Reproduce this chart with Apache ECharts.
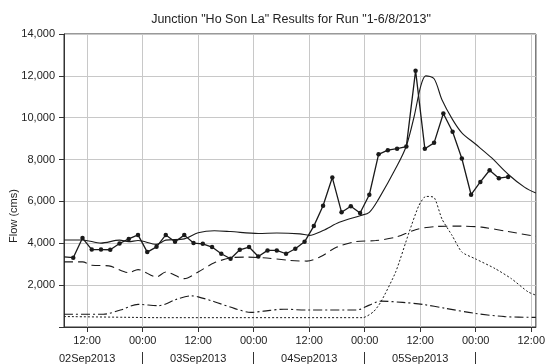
<!DOCTYPE html>
<html>
<head>
<meta charset="utf-8">
<script src="https://cdn.jsdelivr.net/npm/echarts@6/dist/echarts.min.js"></script>
<style>
  html, body { margin: 0; padding: 0; background: #fff; }
  #chart { width: 548px; height: 364px; }
</style>
</head>
<body>
<div id="chart"></div>
<script>
// Time is measured in hours from 02Sep2013 00:00.
const xMin = 7;     // 02Sep2013 07:00
const xMax = 109;   // 06Sep2013 13:00

// Time-of-day tick positions and the date labels underneath them
const timeTicks = [12, 24, 36, 48, 60, 72, 84, 96, 108];
const dayBreaks = [24, 48, 72, 96];
const dayCentres = [12, 36, 60, 84];
const dayLabels = ['02Sep2013', '03Sep2013', '04Sep2013', '05Sep2013'];

// Observed flow (every two hours)
const obsHours = [7, 9, 11, 13, 15, 17, 19, 21, 23, 25, 27, 29, 31, 33, 35, 37, 39, 41, 43, 45, 47,
  49, 51, 53, 55, 57, 59, 61, 63, 65, 67, 69, 71, 73, 75, 77, 79, 81, 83, 85, 87, 89, 91, 93, 95,
  97, 99, 101, 103];
const obsFlow = [3350, 3310, 4250, 3700, 3700, 3690, 3990, 4210, 4400, 3580, 3830, 4400, 4070, 4390,
  4010, 3975, 3820, 3500, 3260, 3690, 3820, 3370, 3660, 3660, 3500, 3740, 4070, 4820, 5795, 7140,
  5480, 5770, 5450, 6320, 8250, 8450, 8520, 8620, 12250, 8520, 8800, 10200, 9330, 8050, 6320,
  6930, 7490, 7110, 7170];

// Computed flow at the junction
const simHours = [7, 11, 15, 19, 21, 23, 27, 29, 33, 36, 39.5, 43, 49, 53, 58, 60, 63, 66.5, 71, 73,
  75, 79, 81, 82.7, 84.1, 85.2, 87, 88.7, 91, 93, 96, 99.4, 103, 106.6, 109];
const simFlow = [4160, 4160, 4010, 4150, 4080, 4130, 3950, 4150, 4210, 4500, 4600, 4560, 4470, 4490,
  4450, 4380, 4610, 5000, 5320, 5480, 6110, 7700, 8650, 10070, 11500, 12000, 11860, 10860, 9910,
  9280, 8730, 8090, 7300, 6670, 6400];

// Main inflow (long dashes)
const inHours = [7, 11, 13, 16.7, 21, 23, 27, 29, 33, 36, 39.5, 43, 46, 50, 56, 59.5, 62.3, 66,
  70.2, 74.4, 78.7, 83, 87.3, 93, 97.3, 103, 109];
const inFlow = [3110, 3110, 2950, 2920, 2600, 2740, 2390, 2630, 2310, 2630, 3070, 3300, 3340, 3310,
  3180, 3150, 3340, 3820, 4085, 4130, 4290, 4650, 4800, 4820, 4770, 4560, 4330];

// Tributary inflow (dash-dot)
const tribHours = [7, 15.5, 19.2, 23, 27.4, 29, 31, 34.5, 36, 39.5, 43.8, 47.4, 50.2, 54.5, 59.5,
  70.2, 73, 75.5, 80.2, 84.5, 89.5, 95.9, 102.3, 109];
const tribFlow = [610, 610, 810, 1080, 1020, 1100, 1300, 1490, 1440, 1210, 890, 700, 760, 850, 810,
  810, 1045, 1235, 1175, 1080, 890, 650, 495, 460];

// Local inflow (short dashes)
const localHours = [7, 21.7, 27.4, 71.6, 73.9, 75.5, 78.7, 81.6, 83.7, 85.2, 87, 88.7, 90.9, 93,
  95.9, 100.2, 103.7, 107.3, 109];
const localFlow = [500, 460, 446, 446, 730, 1200, 2630, 4530, 5800, 6240, 6190, 5160, 4370, 3580,
  3260, 2790, 2310, 1680, 1520];

const yTicks = [0, 2000, 4000, 6000, 8000, 10000, 12000, 14000];

const pair = (xs, ys) => xs.map((x, i) => [x, ys[i]]);
const ink = '#1a1a1a';
const font = 'Liberation Sans, Arial, sans-serif';

// The observed record starts at the left edge of the plot; no dot is drawn there.
const obsData = pair(obsHours, obsFlow).map((p, i) =>
  i === 0 ? { value: p, symbol: 'none' } : p);

const chart = echarts.init(document.getElementById('chart'), null, { renderer: 'canvas' });

chart.setOption({
  animation: false,
  backgroundColor: '#ffffff',
  title: {
    text: 'Junction "Ho Son La" Results for Run "1-6/8/2013"',
    left: 286,
    textAlign: 'center',
    top: 8,
    textStyle: { fontFamily: font, fontSize: 12.5, fontWeight: 'normal', color: '#222' }
  },
  grid: {
    left: 64, right: 7.5, top: 34, bottom: 35,
    show: true, borderColor: '#333', borderWidth: 1, backgroundColor: 'transparent'
  },
  graphic: [{
    type: 'text',
    x: 14, y: 216,
    rotation: Math.PI / 2,
    style: {
      text: 'Flow (cms)', fontFamily: font, fontSize: 11, fill: '#222',
      align: 'center', verticalAlign: 'middle'
    }
  }],
  xAxis: [{
    type: 'value', min: xMin, max: xMax,
    axisLine: { show: true, onZero: false, lineStyle: { color: '#333', width: 1 } },
    axisTick: { show: true, length: 5, customValues: timeTicks, lineStyle: { color: '#333' } },
    axisLabel: {
      customValues: timeTicks, margin: 8, fontFamily: font, fontSize: 11, color: '#222',
      formatter: v => (v % 24 === 0 ? '00:00' : '12:00')
    },
    splitLine: { show: true, lineStyle: { color: '#c8c8c8', width: 1 } }
  }, {
    type: 'value', min: xMin, max: xMax, position: 'bottom', offset: 25,
    axisLine: { show: true, onZero: false, lineStyle: { color: 'rgba(0,0,0,0)', width: 0 } },
    axisTick: { show: true, inside: false, length: 12, customValues: dayBreaks,
      lineStyle: { color: '#333', width: 1 } },
    axisLabel: {
      customValues: dayCentres, margin: 1, fontFamily: font, fontSize: 11, color: '#222',
      formatter: v => dayLabels[dayCentres.indexOf(v)] || ''
    },
    splitLine: { show: false }
  }],
  yAxis: {
    type: 'value', min: yTicks[0], max: yTicks[yTicks.length - 1], interval: 2000,
    axisLine: { show: true, lineStyle: { color: '#333', width: 1 } },
    axisTick: { show: true, length: 5, lineStyle: { color: '#333' } },
    axisLabel: {
      margin: 9, fontFamily: font, fontSize: 11, color: '#222',
      formatter: v => (v === 0 ? '' : v.toLocaleString('en-US'))
    },
    splitLine: { show: true, lineStyle: { color: '#c8c8c8', width: 1 } }
  },
  series: [{
    name: 'Observed', type: 'line', xAxisIndex: 0,
    data: obsData,
    symbol: 'circle', symbolSize: 4.5, showAllSymbol: true,
    itemStyle: { color: ink },
    lineStyle: { color: ink, width: 1.3 }
  }, {
    name: 'Computed', type: 'line', xAxisIndex: 0,
    data: pair(simHours, simFlow), smooth: 0.3, showSymbol: false,
    lineStyle: { color: ink, width: 1.1 }
  }, {
    name: 'Inflow', type: 'line', xAxisIndex: 0,
    data: pair(inHours, inFlow), smooth: 0.3, showSymbol: false,
    lineStyle: { color: ink, width: 1.1, type: [9, 5] }
  }, {
    name: 'Tributary', type: 'line', xAxisIndex: 0,
    data: pair(tribHours, tribFlow), smooth: 0.3, showSymbol: false,
    lineStyle: { color: ink, width: 1.1, type: [9, 3, 2, 3] }
  }, {
    name: 'Local', type: 'line', xAxisIndex: 0,
    data: pair(localHours, localFlow), smooth: 0.2, showSymbol: false,
    lineStyle: { color: ink, width: 1, type: [2, 2] }
  }]
});
</script>
</body>
</html>
